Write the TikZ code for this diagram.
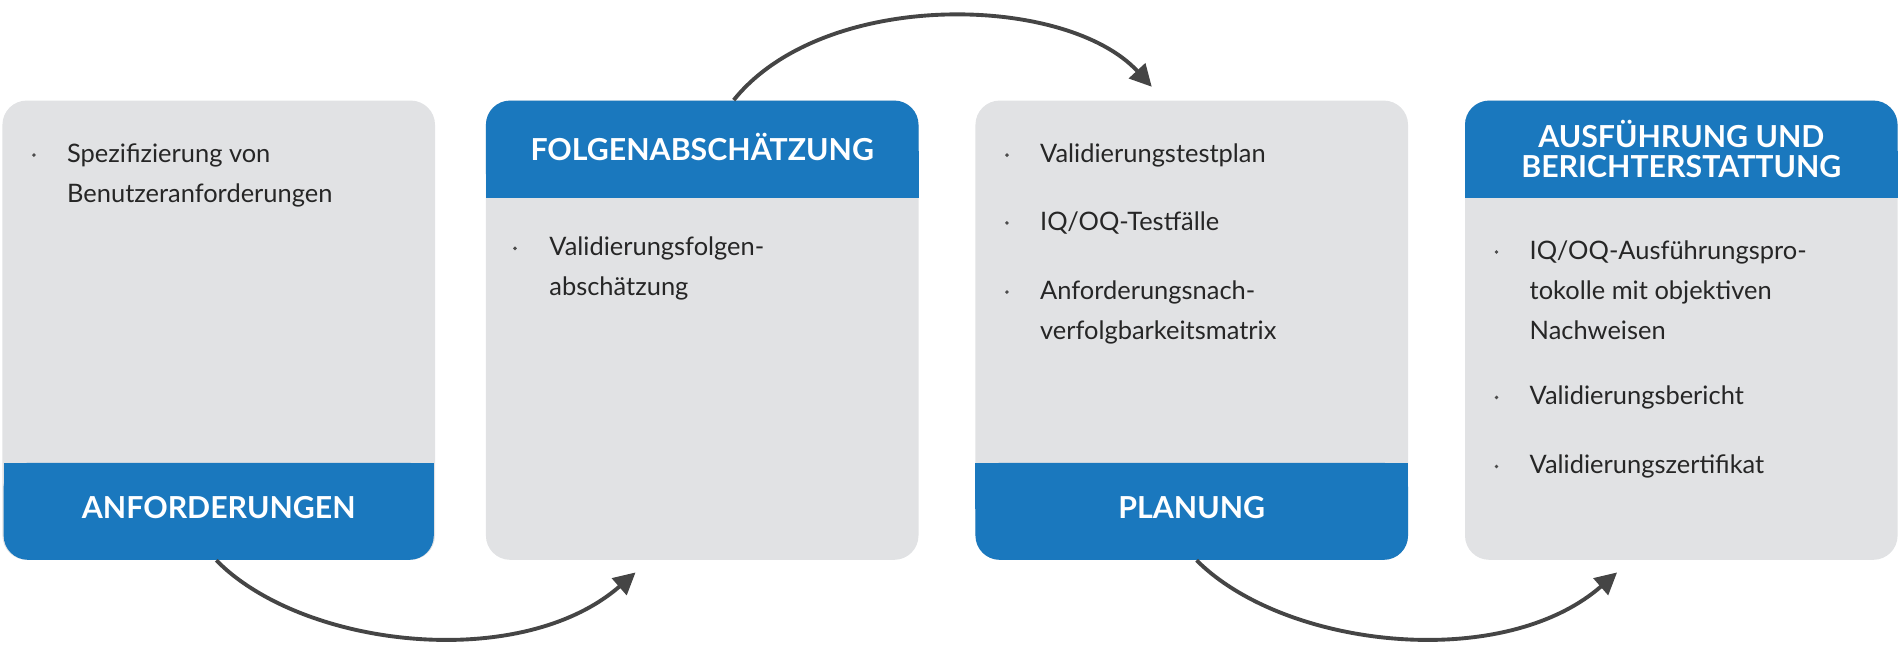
\documentclass[tikz,border=0pt]{standalone}
\usepackage{fontspec}
\setmainfont{Lato}
\usetikzlibrary{calc,arrows.meta}
\definecolor{gb}{HTML}{E1E2E4}
\definecolor{bl}{HTML}{1A78BE}
\definecolor{ar}{HTML}{454545}
\tikzset{
 box/.style={fill=gb,rounded corners=10pt,minimum width=178.5pt,minimum height=189.5pt,inner sep=0pt},
 ttl/.style={text=white,font=\bfseries\fontsize{12.5}{14.5}\selectfont,align=center},
 itm/.style={anchor=north west,align=left,inner sep=0pt,font=\fontsize{10.5}{16.5}\selectfont,text=black!85},
 bul/.style={circle,fill=black!70,inner sep=0pt,minimum size=1.6pt},
 flow/.style={ar,line width=1.6pt,-{Triangle[length=9pt,width=9pt]}}
}
\begin{document}
\begin{tikzpicture}[x=0.5pt,y=-0.5pt]
\useasboundingbox (0,0) rectangle (1568,545);
\node[box] (b1) at (180.5,272.5) {};
\node[box] (b2) at (579.5,272.5) {};
\node[box] (b3) at (983.5,272.5) {};
\node[box] (b4) at (1387.5,272.5) {};
% bands
\fill[bl,rounded corners=10pt] (3,382) rectangle (358,462); \fill[bl] (3,382) rectangle (358,420);
\fill[bl,rounded corners=10pt] (401,83) rectangle (758,163); \fill[bl] (401,125) rectangle (758,163);
\fill[bl,rounded corners=10pt] (805,382) rectangle (1162,462); \fill[bl] (805,382) rectangle (1162,420);
\fill[bl,rounded corners=10pt] (1209,83) rectangle (1566,163); \fill[bl] (1209,125) rectangle (1566,163);
\node[ttl] (t1) at (180.5,419) {ANFORDERUNGEN};
\node[ttl] (t2) at (579.5,121) {FOLGENABSCHÄTZUNG};
\node[ttl] (t3) at (983.5,419) {PLANUNG};
\node[ttl] (t4) at (1387.5,123) {AUSFÜHRUNG UND\\[-2pt]BERICHTERSTATTUNG};
% items
\node[bul] (d1) at (28,128) {}; \node[itm] (i1) at (55,118) {Spezifizierung von\\Benutzeranforderungen};
\node[bul] (d2) at (425,205) {}; \node[itm] (i2) at (453,195) {Validierungsfolgen-\\abschätzung};
\node[bul] (d3) at (831,128) {}; \node[itm] (i3) at (858,118) {Validierungstestplan};
\node[bul] (d4) at (831,184) {}; \node[itm] (i4) at (858,174) {IQ/OQ-Testfälle};
\node[bul] (d5) at (831,241) {}; \node[itm] (i5) at (858,231) {Anforderungsnach-\\verfolgbarkeitsmatrix};
\node[bul] (d6) at (1235,208) {}; \node[itm] (i6) at (1262,198) {IQ/OQ-Ausführungspro-\\tokolle mit objektiven\\Nachweisen};
\node[bul] (d7) at (1235,328) {}; \node[itm] (i7) at (1262,318) {Validierungsbericht};
\node[bul] (d8) at (1235,385) {}; \node[itm] (i8) at (1262,375) {Validierungszertifikat};
% arrows
\draw[flow] ($(b1.south)+(-2,0)$) .. controls (250,535) and (430,555) .. ($(b2.south)+(-55,10)$);
\draw[flow] ($(b2.north)+(26,0)$) .. controls (680,-10) and (880,-5) .. ($(b3.north)+(-33,-11)$);
\draw[flow] ($(b3.south)+(4,0)$) .. controls (1060,535) and (1240,555) .. ($(b4.south)+(-53,10)$);
\end{tikzpicture}
\end{document}
